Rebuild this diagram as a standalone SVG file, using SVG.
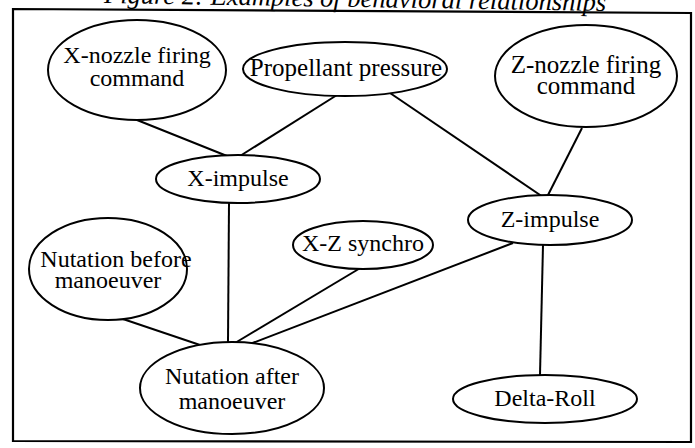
<svg xmlns="http://www.w3.org/2000/svg" width="695" height="448" viewBox="0 0 695 448">
<style>
.n{fill:#fff;stroke:#000;stroke-width:2}
.t{font-family:"Liberation Serif",serif;font-size:24px;fill:#000;text-anchor:middle}
.c line{stroke:#000;stroke-width:2}
</style>
<rect x="0" y="0" width="695" height="448" fill="#fff"/>
<text x="104" y="3" transform="rotate(0.9 104 3)" font-family="Liberation Serif,serif" font-style="italic" font-size="26.5">Figure 2: Examples of behavioral relationships</text>
<polygon id="frame" points="13,9 691,13 691,442 13,441" fill="none" stroke="#000" stroke-width="2.2"/>
<g class="c" id="connectors">
<line x1="137" y1="120" x2="227" y2="156"/>
<line x1="337" y1="95" x2="240" y2="156"/>
<line x1="390" y1="93" x2="543" y2="197"/>
<line x1="582" y1="128" x2="547" y2="197"/>
<line x1="229" y1="203" x2="228" y2="342"/>
<line x1="120" y1="318" x2="203" y2="346"/>
<line x1="362" y1="267" x2="235" y2="343"/>
<line x1="513" y1="243" x2="250" y2="344"/>
<line x1="543" y1="245" x2="540" y2="375"/>
</g>
<g id="xnozzle"><ellipse class="n" cx="137" cy="70" rx="89" ry="50"/><text class="t" x="137" y="63">X-nozzle firing</text><text class="t" x="137" y="86">command</text></g>
<g id="propellant"><ellipse class="n" cx="345" cy="69" rx="102" ry="27"/><text class="t" x="346" y="76" style="font-size:25px">Propellant pressure</text></g>
<g id="znozzle"><ellipse class="n" cx="586" cy="76" rx="91" ry="51"/><text class="t" x="586" y="73" style="font-size:25px">Z-nozzle firing</text><text class="t" x="586" y="94" style="font-size:25px">command</text></g>
<g id="ximpulse"><ellipse class="n" cx="238" cy="179" rx="82" ry="24"/><text class="t" x="238" y="186">X-impulse</text></g>
<g id="zimpulse"><ellipse class="n" cx="550" cy="220" rx="82" ry="25"/><text class="t" x="550" y="227">Z-impulse</text></g>
<g id="xzsynchro"><ellipse class="n" cx="363" cy="245" rx="70" ry="24"/><text class="t" x="363" y="251">X-Z synchro</text></g>
<g id="nutbefore"><ellipse class="n" cx="108" cy="269" rx="79" ry="51"/><text class="t" x="116" y="267">Nutation before</text><text class="t" x="108" y="288">manoeuver</text></g>
<g id="nutafter"><ellipse class="n" cx="232" cy="388" rx="92" ry="46"/><text class="t" x="232" y="384">Nutation after</text><text class="t" x="232" y="409">manoeuver</text></g>
<g id="deltaroll"><ellipse class="n" cx="545" cy="399" rx="92" ry="24"/><text class="t" x="545" y="406">Delta-Roll</text></g>
</svg>
